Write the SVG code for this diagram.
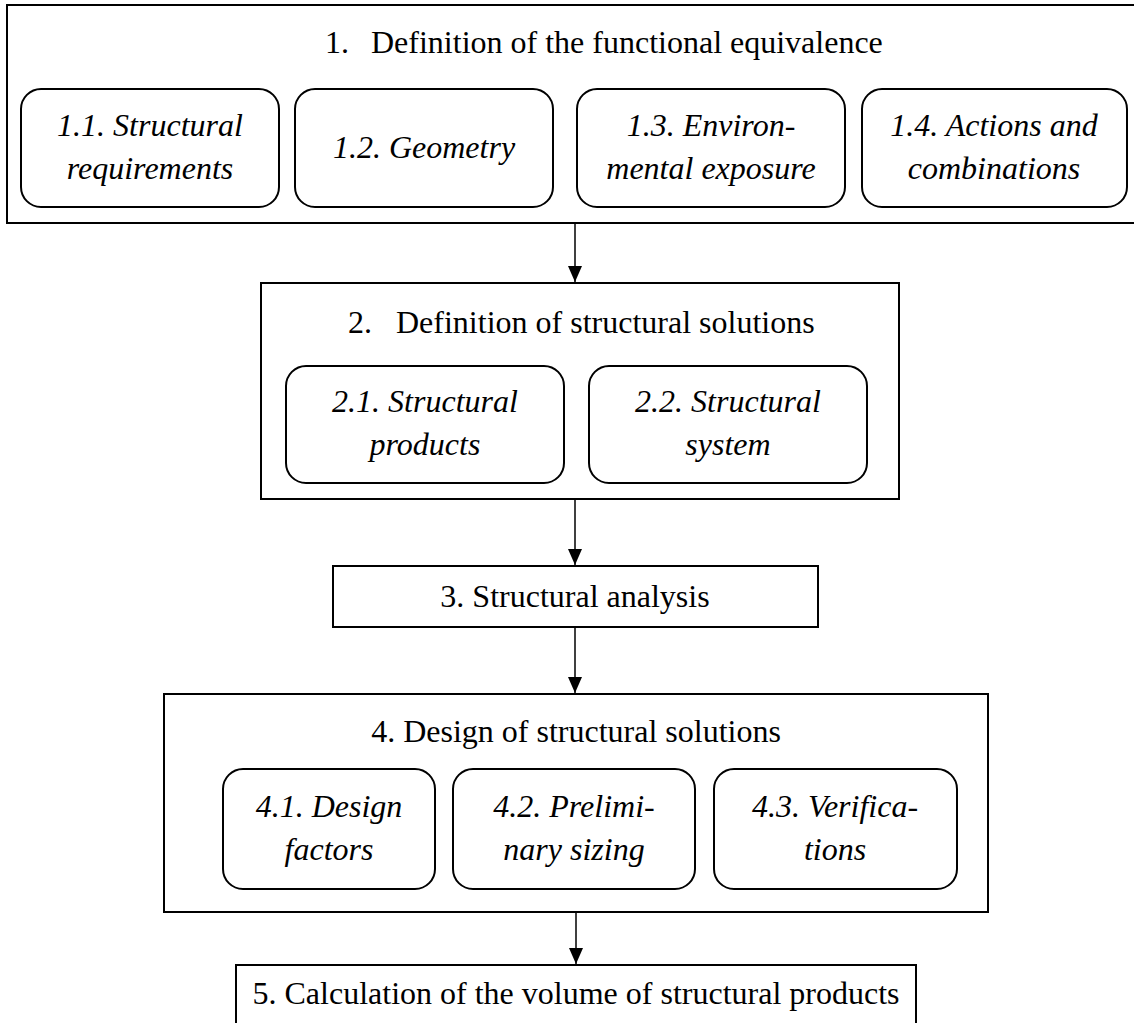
<svg xmlns="http://www.w3.org/2000/svg" width="1134" height="1023" viewBox="0 0 1134 1023">
  <style>
    .frame { fill: #ffffff; stroke: #000000; stroke-width: 2; }
    .sub { fill: #ffffff; stroke: #000000; stroke-width: 2; }
    .title { font-family: "Liberation Serif", "Times New Roman", serif; font-size: 32px; fill: #000000; }
    .item { font-family: "Liberation Serif", "Times New Roman", serif; font-size: 32px; font-style: italic; fill: #000000; text-anchor: middle; }
    .mid { text-anchor: middle; }
    .link { stroke: #000000; stroke-width: 1.5; fill: none; marker-end: url(#head); }
  </style>
  <defs>
    <marker id="head" viewBox="0 0 16 14" refX="16" refY="7" markerWidth="16" markerHeight="14" markerUnits="userSpaceOnUse" orient="auto">
      <path d="M0,0 L16,7 L0,14 Z" fill="#000000"/>
    </marker>
  </defs>
  <rect width="1134" height="1023" fill="#ffffff"/>

  <!-- Step 1 -->
  <g id="step1">
    <rect class="frame" x="7" y="5" width="1140" height="218"/>
    <text class="title" y="53"><tspan x="325">1.</tspan><tspan x="371">Definition of the functional equivalence</tspan></text>
  </g>
  <g id="step1-1">
    <rect class="sub" x="21" y="89" width="258" height="118" rx="20"/>
    <text class="item" x="150" y="136">1.1. Structural</text>
    <text class="item" x="150" y="179">requirements</text>
  </g>
  <g id="step1-2">
    <rect class="sub" x="295" y="89" width="258" height="118" rx="20"/>
    <text class="item" x="424" y="158">1.2. Geometry</text>
  </g>
  <g id="step1-3">
    <rect class="sub" x="577" y="89" width="268" height="118" rx="20"/>
    <text class="item" x="711" y="136">1.3. Environ-</text>
    <text class="item" x="711" y="179">mental exposure</text>
  </g>
  <g id="step1-4">
    <rect class="sub" x="862" y="89" width="265" height="118" rx="20"/>
    <text class="item" x="994" y="136">1.4. Actions and</text>
    <text class="item" x="994" y="179">combinations</text>
  </g>

  <!-- Step 2 -->
  <g id="step2">
    <rect class="frame" x="261" y="283" width="638" height="216"/>
    <text class="title" y="333"><tspan x="348">2.</tspan><tspan x="396">Definition of structural solutions</tspan></text>
  </g>
  <g id="step2-1">
    <rect class="sub" x="286" y="366" width="278" height="117" rx="20"/>
    <text class="item" x="425" y="412">2.1. Structural</text>
    <text class="item" x="425" y="455">products</text>
  </g>
  <g id="step2-2">
    <rect class="sub" x="589" y="366" width="278" height="117" rx="20"/>
    <text class="item" x="728" y="412">2.2. Structural</text>
    <text class="item" x="728" y="455">system</text>
  </g>

  <!-- Step 3 -->
  <g id="step3">
    <rect class="frame" x="333" y="566" width="485" height="61"/>
    <text class="title mid" x="575" y="607">3. Structural analysis</text>
  </g>

  <!-- Step 4 -->
  <g id="step4">
    <rect class="frame" x="164" y="694" width="824" height="218"/>
    <text class="title mid" x="576" y="742">4. Design of structural solutions</text>
  </g>
  <g id="step4-1">
    <rect class="sub" x="223" y="769" width="212" height="120" rx="20"/>
    <text class="item" x="329" y="817">4.1. Design</text>
    <text class="item" x="329" y="860">factors</text>
  </g>
  <g id="step4-2">
    <rect class="sub" x="453" y="769" width="242" height="120" rx="20"/>
    <text class="item" x="574" y="817">4.2. Prelimi-</text>
    <text class="item" x="574" y="860">nary sizing</text>
  </g>
  <g id="step4-3">
    <rect class="sub" x="714" y="769" width="243" height="120" rx="20"/>
    <text class="item" x="835" y="817">4.3. Verifica-</text>
    <text class="item" x="835" y="860">tions</text>
  </g>

  <!-- Step 5 -->
  <g id="step5">
    <rect class="frame" x="236" y="965" width="680" height="80"/>
    <text class="title mid" x="576" y="1004">5. Calculation of the volume of structural products</text>
  </g>

  <!-- Connectors -->
  <g id="connectors">
    <line class="link" x1="575" y1="224" x2="575" y2="282"/>
    <line class="link" x1="575" y1="500" x2="575" y2="565"/>
    <line class="link" x1="575" y1="628" x2="575" y2="693"/>
    <line class="link" x1="576" y1="913" x2="576" y2="964"/>
  </g>
</svg>
